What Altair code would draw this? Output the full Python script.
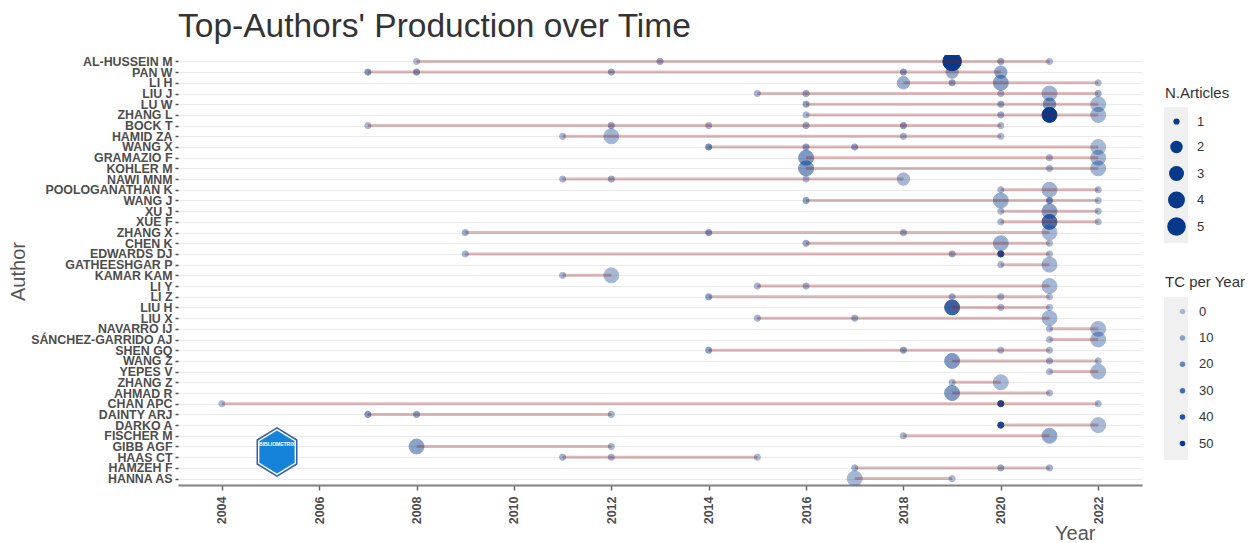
import altair as alt
import pandas as pd

authors = ["AL-HUSSEIN M", "PAN W", "LI H", "LIU J", "LU W", "ZHANG L", "BOCK T", "HAMID ZA",
           "WANG X", "GRAMAZIO F", "KOHLER M", "NAWI MNM", "POOLOGANATHAN K", "WANG J", "XU J",
           "XUE F", "ZHANG X", "CHEN K", "EDWARDS DJ", "GATHEESHGAR P", "KAMAR KAM", "LI Y", "LI Z",
           "LIU H", "LIU X", "NAVARRO IJ", "SÁNCHEZ-GARRIDO AJ", "SHEN GQ", "WANG Z", "YEPES V",
           "ZHANG Z", "AHMAD R", "CHAN APC", "DAINTY ARJ", "DARKO A", "FISCHER M", "GIBB AGF",
           "HAAS CT", "HAMZEH F", "HANNA AS"]

# publication years per author (same order as authors)
pub_years = [
    [2008, 2013, 2019, 2020, 2021],
    [2007, 2008, 2012, 2018, 2019, 2020],
    [2018, 2019, 2020, 2022],
    [2015, 2016, 2020, 2021, 2022],
    [2016, 2020, 2021, 2022],
    [2016, 2020, 2021, 2022],
    [2007, 2012, 2014, 2016, 2018, 2020],
    [2011, 2012, 2018, 2020],
    [2014, 2016, 2017, 2022],
    [2016, 2021, 2022],
    [2016, 2021, 2022],
    [2011, 2012, 2016, 2018],
    [2020, 2021, 2022],
    [2016, 2020, 2021, 2022],
    [2020, 2021, 2022],
    [2020, 2021, 2022],
    [2009, 2014, 2018, 2021],
    [2016, 2020, 2021],
    [2009, 2019, 2020, 2021],
    [2020, 2021],
    [2011, 2012],
    [2015, 2016, 2021],
    [2014, 2019, 2020, 2021],
    [2019, 2020, 2021],
    [2015, 2017, 2021],
    [2021, 2022],
    [2021, 2022],
    [2014, 2018, 2020, 2021],
    [2019, 2021, 2022],
    [2021, 2022],
    [2019, 2020],
    [2019, 2021],
    [2004, 2020, 2022],
    [2007, 2008, 2012],
    [2020, 2022],
    [2018, 2021],
    [2008, 2012],
    [2011, 2012, 2015],
    [2017, 2020, 2021],
    [2017, 2019],
]

# number of articles per author-year
pub_articles = [
    [1, 1, 5, 1, 1],
    [1, 1, 1, 1, 2, 2],
    [2, 1, 3, 1],
    [1, 1, 1, 3, 1],
    [1, 1, 2, 3],
    [1, 1, 3, 3],
    [1, 1, 1, 1, 1, 1],
    [1, 3, 1, 1],
    [1, 1, 1, 3],
    [3, 1, 3],
    [3, 1, 3],
    [1, 1, 1, 2],
    [1, 3, 1],
    [1, 3, 1, 1],
    [1, 3, 1],
    [1, 3, 1],
    [1, 1, 1, 3],
    [1, 3, 1],
    [1, 1, 1, 1],
    [1, 3],
    [1, 3],
    [1, 1, 3],
    [1, 1, 1, 1],
    [3, 1, 1],
    [1, 1, 3],
    [1, 3],
    [1, 3],
    [1, 1, 1, 1],
    [3, 1, 1],
    [1, 3],
    [1, 3],
    [3, 1],
    [1, 1, 1],
    [1, 1, 1],
    [1, 3],
    [1, 3],
    [3, 1],
    [1, 1, 1],
    [1, 1, 1],
    [3, 1],
]

# total citations per year per author-year
pub_tc = [
    [3, 10, 50, 10, 4],
    [15, 15, 10, 15, 8, 10],
    [8, 12, 12, 3],
    [5, 10, 5, 6, 8],
    [12, 10, 15, 4],
    [3, 8, 50, 5],
    [3, 12, 6, 10, 15, 4],
    [5, 5, 5, 3],
    [20, 12, 12, 3],
    [15, 5, 5],
    [15, 5, 5],
    [5, 8, 3, 4],
    [5, 6, 5],
    [12, 8, 20, 3],
    [4, 12, 3],
    [4, 30, 3],
    [8, 15, 10, 4],
    [10, 8, 3],
    [5, 10, 45, 3],
    [4, 5],
    [5, 4],
    [5, 6, 4],
    [12, 6, 5, 2],
    [35, 5, 2],
    [5, 8, 5],
    [3, 4],
    [3, 5],
    [12, 12, 4, 3],
    [15, 6, 3],
    [3, 4],
    [4, 4],
    [15, 3],
    [2, 45, 3],
    [15, 12, 5],
    [45, 3],
    [5, 10],
    [12, 5],
    [6, 6, 3],
    [6, 8, 6],
    [4, 3],
]

year_ticks = [2004, 2006, 2008, 2010, 2012, 2014, 2016, 2018, 2020, 2022]
article_levels = [1, 2, 3, 4, 5]
tc_levels = [0, 10, 20, 30, 40, 50]

rows = []
for a, ys, ns, ts in zip(authors, pub_years, pub_articles, pub_tc):
    for y, n, t in zip(ys, ns, ts):
        rows.append({"author": a, "year": y, "articles": n, "tcpy": t})
df = pd.DataFrame(rows)

NAVY = "#06398a"
FONT = "Liberation Sans"

x_scale = alt.Scale(domain=[2003.1, 2022.9], nice=False, zero=False)
y_scale = alt.Scale(type="point", padding=0.6)
# area scale: diameter grows with sqrt of the rescaled count (7px .. 21px)
size_scale = alt.Scale(domain=article_levels, range=[38.5, 154, 224, 287, 346], zero=False)

x_axis = alt.Axis(values=year_ticks, format="d", labelAngle=270, labelFont=FONT,
                  labelFontWeight="bold", labelFontSize=12.5, labelColor="#4d4d4d",
                  labelPadding=6, labelBaseline="middle", labelAlign="right",
                  domain=True, domainColor="#808080", domainWidth=2,
                  ticks=True, tickColor="#666666", tickSize=5, tickWidth=1.5,
                  grid=False, title="Year", titleFont=FONT, titleFontSize=20,
                  titleFontWeight="normal", titleColor="#555555",
                  titleAnchor="end", titleAlign="right", titleX=917, titleY=54,
                  titleBaseline="alphabetic")

y_axis = alt.Axis(labelFont=FONT, labelFontWeight="bold", labelFontSize=12.4,
                  labelColor="#4d4d4d", labelPadding=3, domain=False,
                  ticks=True, tickColor="#4d4d4d", tickSize=3, tickWidth=1.5,
                  grid=True, gridColor="#ebebeb", gridWidth=1,
                  title="Author", titleFont=FONT, titleFontSize=20,
                  titleFontWeight="normal", titleColor="#555555",
                  titleX=-150, titleY=216, titleAngle=270, titleAlign="center",
                  titleBaseline="bottom")

points = alt.Chart(df).mark_point(filled=True, color=NAVY, stroke=NAVY, strokeWidth=1,
                                  clip=True).encode(
    x=alt.X("year:Q", scale=x_scale, axis=x_axis),
    y=alt.Y("author:N", sort=authors, scale=y_scale, axis=y_axis),
    size=alt.Size("articles:Q", scale=size_scale,
                  legend=alt.Legend(title="N.Articles", orient="none", legendX=987, legendY=31,
                                    values=article_levels, titleFont=FONT, titleFontSize=15,
                                    titleFontWeight="normal", titleColor="#333333",
                                    labelFont=FONT, labelFontSize=13, labelColor="#333333",
                                    symbolFillColor=NAVY, symbolStrokeColor=NAVY,
                                    symbolOpacity=1, symbolStrokeWidth=0, gridAlign="all",
                                    symbolOffset=2, rowPadding=6.5, labelOffset=11,
                                    titlePadding=14)),
    opacity=alt.Opacity("tcpy:Q", scale=alt.Scale(domain=[0, 50], range=[0.3, 1]),
                        legend=alt.Legend(title="TC per Year", orient="none", legendX=987,
                                          legendY=220, values=tc_levels,
                                          titleFont=FONT, titleFontSize=15,
                                          titleFontWeight="normal", titleColor="#333333",
                                          labelFont=FONT, labelFontSize=13,
                                          labelColor="#333333", symbolFillColor=NAVY,
                                          symbolStrokeWidth=0, symbolSize=30,
                                          symbolOffset=11, rowPadding=12.4, labelOffset=10,
                                          titlePadding=15)),
)

lines = alt.Chart(df).transform_aggregate(
    start="min(year)", end="max(year)", groupby=["author"]
).mark_rule(color="#8B1A1A", opacity=0.3, strokeWidth=3).encode(
    x=alt.X("start:Q", scale=x_scale),
    x2="end:Q",
    y=alt.Y("author:N", sort=authors, scale=y_scale),
)

# grey key backgrounds behind the legend symbols (ggplot legend.key)
key_df = pd.DataFrame({"key": ["legend keys"]})
key_bg_size = alt.Chart(key_df).mark_rect(color="#f0f0f0").encode(
    x=alt.value(986), x2=alt.value(1010), y=alt.value(52), y2=alt.value(188))
key_bg_tc = alt.Chart(key_df).mark_rect(color="#f0f0f0").encode(
    x=alt.value(986), x2=alt.value(1010), y=alt.value(242), y2=alt.value(405))

hexagon = "M0,-1L0.82,-0.5L0.82,0.5L0,1L-0.82,0.5L-0.82,-0.5Z"
logo_df = pd.DataFrame({"logo": ["bibliometrix"]})
logo_outer = alt.Chart(logo_df).mark_point(shape=hexagon, filled=True, color="#2f5cb5",
                                           opacity=1, size=2500).encode(
    x=alt.value(99), y=alt.value(397))
logo_gap = alt.Chart(logo_df).mark_point(shape=hexagon, filled=True, color="#ffffff",
                                         opacity=1, size=2150).encode(
    x=alt.value(99), y=alt.value(397))
logo_inner = alt.Chart(logo_df).mark_point(shape=hexagon, filled=True, color="#1683da",
                                           opacity=1, size=1850).encode(
    x=alt.value(99), y=alt.value(397))
logo_band = alt.Chart(logo_df).mark_text(text="BIBLIOMETRIX", font=FONT, fontSize=5,
                                         fontWeight="bold", color="white").encode(
    x=alt.value(99), y=alt.value(389))

chart = alt.layer(key_bg_size, key_bg_tc, points, lines, logo_outer, logo_gap, logo_inner,
                  logo_band).properties(
    width=964, height=430,
    title=alt.TitleParams("Top-Authors' Production over Time", anchor="start", frame="group",
                          font=FONT, fontSize=33.5, fontWeight="normal", color="#333333",
                          offset=11),
    autosize=alt.AutoSizeParams(type="none"),
    padding={"left": 170, "top": 47, "right": 109, "bottom": 58},
).configure_view(stroke=None)

chart.save("out.html", embed_options={"renderer": "svg", "actions": False})
